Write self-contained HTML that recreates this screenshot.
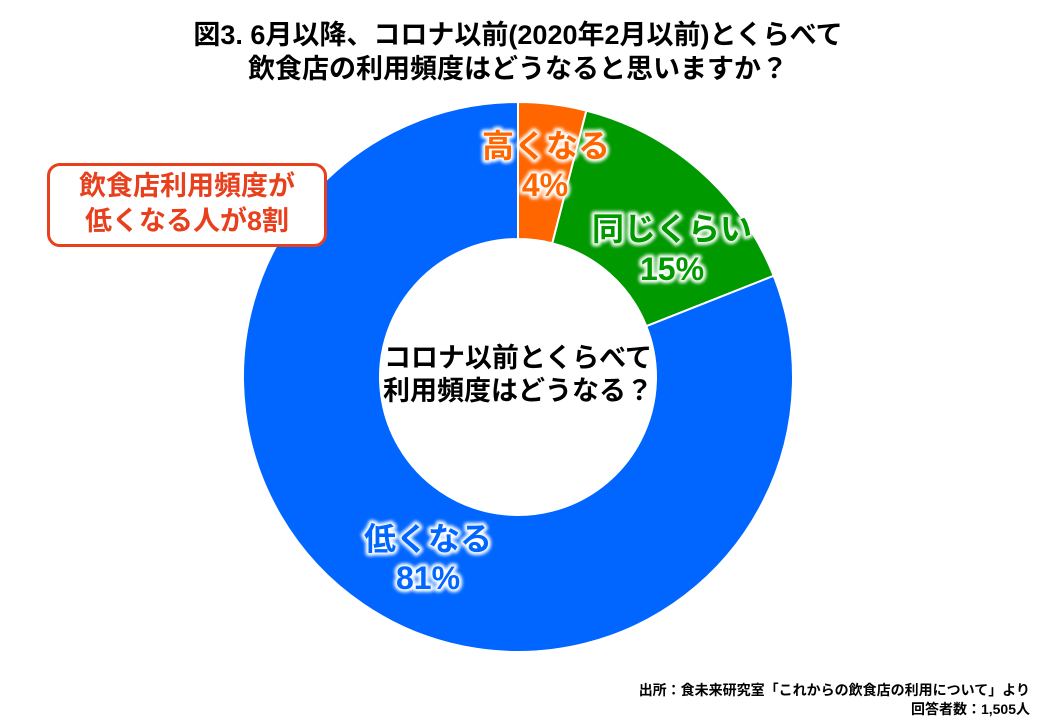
<!DOCTYPE html>
<html><head><meta charset="utf-8"><style>
body{margin:0;width:1040px;height:720px;background:#fff;overflow:hidden;font-family:"Liberation Sans","Noto Sans CJK JP",sans-serif;}
svg text{font-family:"Liberation Sans","Noto Sans CJK JP",sans-serif;font-weight:bold;}
.box{position:absolute;left:47px;top:163px;width:274px;height:75px;border:3px solid #E8401C;border-radius:13px;background:#fff;color:#E8401C;font-weight:bold;font-size:27px;line-height:35px;text-align:center;padding-top:3px;box-sizing:content-box;}
</style></head><body>
<svg width="1040" height="720" style="position:absolute;left:0;top:0">
<defs><filter id="b" x="-20%" y="-40%" width="140%" height="180%"><feGaussianBlur stdDeviation="1.5"/></filter></defs>
<text x="518" y="44" font-size="27" text-anchor="middle">図3. 6月以降、コロナ以前(2020年2月以前)とくらべて</text>
<text x="518" y="78" font-size="27" text-anchor="middle">飲食店の利用頻度はどうなると思いますか？</text>
<g stroke="#fff" stroke-width="2">
<path d="M518,102 A275,275 0 0 1 586.4,110.6 L552.3,243.3 A138,138 0 0 0 518,239 Z" fill="#FF6600"/>
<path d="M586.4,110.6 A275,275 0 0 1 773.7,275.8 L646.3,326.2 A138,138 0 0 0 552.3,243.3 Z" fill="#009900"/>
<path d="M773.7,275.8 A275,275 0 1 1 518,102 L518,239 A138,138 0 1 0 646.3,326.2 Z" fill="#0066FF"/>
</g>
<g font-size="32" text-anchor="middle" fill="#fff" stroke="#fff" stroke-width="6" stroke-linejoin="round" filter="url(#b)">
<text x="546" y="157">高くなる</text>
<text x="545" y="196">4%</text>
<text x="672" y="240">同じくらい</text>
<text x="672" y="280">15%</text>
<text x="428" y="550">低くなる</text>
<text x="428" y="589">81%</text>
</g>
<g font-size="32" text-anchor="middle">
<text x="546" y="157" fill="#FF6600">高くなる</text>
<text x="545" y="196" fill="#FF6600">4%</text>
<text x="672" y="240" fill="#009900">同じくらい</text>
<text x="672" y="280" fill="#009900">15%</text>
<text x="428" y="550" fill="#0066FF">低くなる</text>
<text x="428" y="589" fill="#0066FF">81%</text>
</g>
<text x="518" y="367" font-size="27" text-anchor="middle">コロナ以前とくらべて</text>
<text x="518" y="400" font-size="27" text-anchor="middle">利用頻度はどうなる？</text>
<text x="1030" y="695" font-size="14" text-anchor="end">出所：食未来研究室「これからの飲食店の利用について」より</text>
<text x="1030" y="714" font-size="14" text-anchor="end">回答者数：1,505人</text>
</svg>
<div class="box">飲食店利用頻度が<br>低くなる人が8割</div>
</body></html>
